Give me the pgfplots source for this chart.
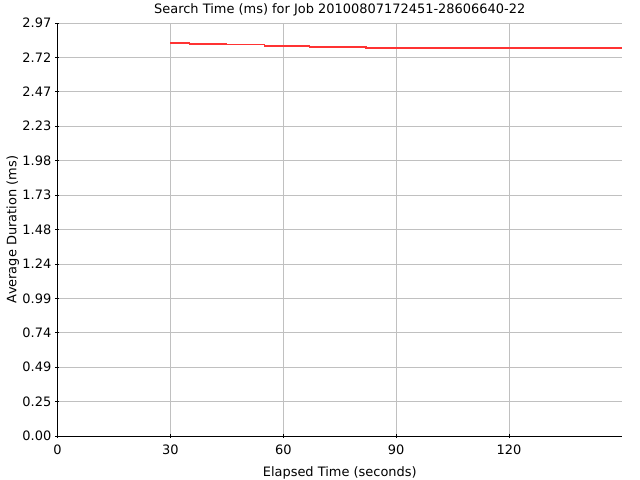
\documentclass[border=0pt]{standalone}
\usepackage{pgfplots}
\pgfplotsset{compat=1.18}
\usepackage{fontspec}
\setmainfont{DejaVu Sans}

\definecolor{gridgray}{RGB}{192,192,192}
\definecolor{linered}{RGB}{255,51,51}

\begin{document}
\begin{tikzpicture}[x=1bp,y=1bp]
\begin{axis}[
    at={(0,0)}, anchor=south west,
    scale only axis,
    width=564.5bp, height=413bp,
    xmin=0, xmax=150,
    ymin=0, ymax=2.97,
    xtick={0,30,60,90,120},
    ytick={0,0.2475,0.495,0.7425,0.99,1.2375,1.485,1.7325,1.98,2.2275,2.475,2.7225,2.97},
    yticklabels={0.00,0.25,0.49,0.74,0.99,1.24,1.48,1.73,1.98,2.23,2.47,2.72,2.97},
    axis x line*=bottom, axis y line*=left,
    axis line style={black, line width=0.9bp, -},
    tick align=center, major tick length=4bp,
    tick style={black, line width=0.8bp},
    grid=major,
    major grid style={gridgray, line width=0.8bp},
    ticklabel style={font=\fontsize{13}{15}\selectfont},
    xticklabel style={anchor=base, inner sep=0pt, yshift=-16bp},
    yticklabel style={anchor=east, inner sep=0pt, xshift=-4bp},
    /pgf/number format/assume math mode=true,
    label style={font=\fontsize{13}{15}\selectfont},
    title style={font=\fontsize{13}{15}\selectfont, at={(0.5,1)}, anchor=base, inner sep=0pt, yshift=4bp},
    xlabel style={at={(0.5,0)}, anchor=base, inner sep=0pt, yshift=-40bp},
    ylabel style={at={(0,0.5)}, anchor=base, inner sep=0pt, rotate=0, yshift=41bp},
    title={Search Time (ms) for Job 20100807172451-28606640-22},
    xlabel={Elapsed Time (seconds)},
    ylabel={Average Duration (ms)},
    clip=false,
]
\addplot[const plot, linered, line width=1.2bp] coordinates {
    (30,2.826) (35,2.819) (45,2.814) (55,2.805) (67,2.797) (82,2.790) (150,2.790)
};
\end{axis}
\pgfresetboundingbox
\useasboundingbox (-57.5bp,-44bp) rectangle (582.5bp,436bp);
\end{tikzpicture}
\end{document}
